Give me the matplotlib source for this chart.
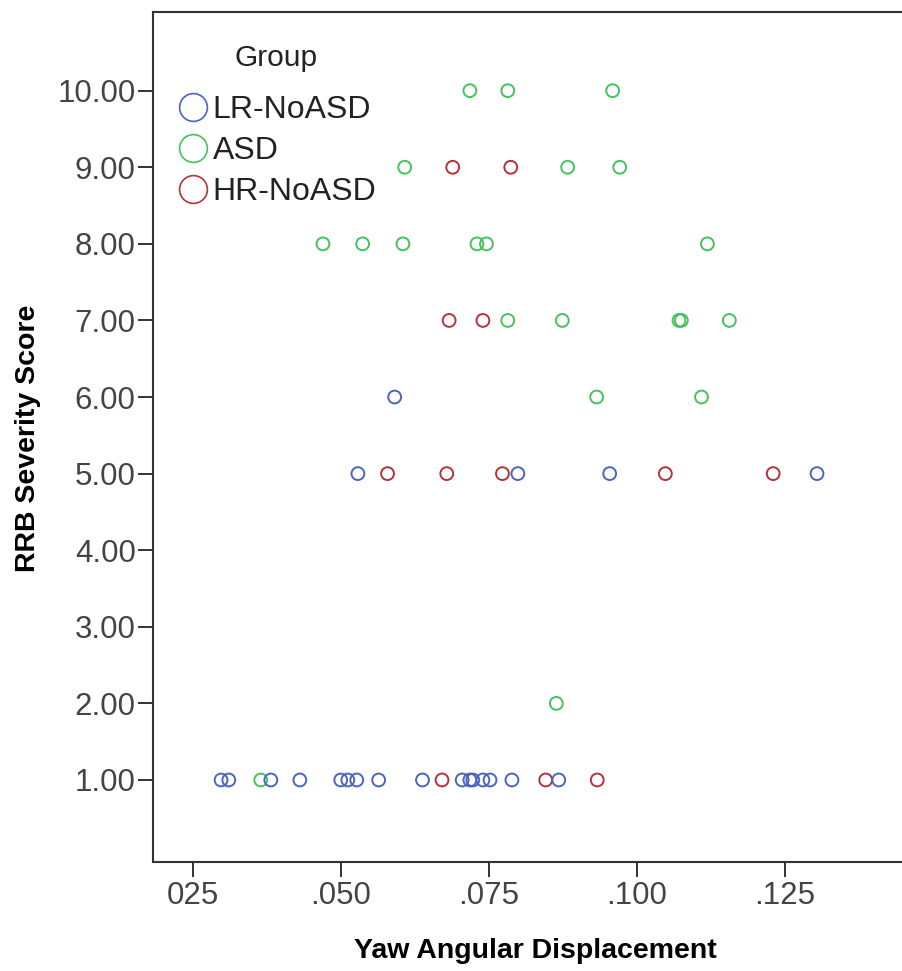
import matplotlib
matplotlib.use("Agg")
import matplotlib.pyplot as plt
from matplotlib.lines import Line2D

# Data: (x, y) per group
groups = ["LR-NoASD", "ASD", "HR-NoASD"]
colors = {"LR-NoASD": "#4b64c2", "ASD": "#45c25e", "HR-NoASD": "#b5323a"}

lr_x = [0.0591,
        0.0529, 0.0799, 0.0954, 0.1304,
        0.0298, 0.0311, 0.0382, 0.0431, 0.0500, 0.0512, 0.0527, 0.0564,
        0.0638, 0.0705, 0.0718, 0.0723, 0.0740, 0.0752, 0.0789, 0.0868]
lr_y = [6,
        5, 5, 5, 5,
        1, 1, 1, 1, 1, 1, 1, 1,
        1, 1, 1, 1, 1, 1, 1, 1]

asd_x = [0.0718, 0.0782, 0.0959,
         0.0608, 0.0883, 0.0971,
         0.0470, 0.0537, 0.0605, 0.0730, 0.0746, 0.1119,
         0.0782, 0.0874, 0.1071, 0.1075, 0.1156,
         0.0932, 0.1109,
         0.0864,
         0.0365]
asd_y = [10, 10, 10,
         9, 9, 9,
         8, 8, 8, 8, 8, 8,
         7, 7, 7, 7, 7,
         6, 6,
         2,
         1]

hr_x = [0.0689, 0.0787,
        0.0683, 0.0740,
        0.0579, 0.0679, 0.0773, 0.1048, 0.1230,
        0.0671, 0.0846, 0.0933]
hr_y = [9, 9,
        7, 7,
        5, 5, 5, 5, 5,
        1, 1, 1]

x_ticks = [0.025, 0.050, 0.075, 0.100, 0.125]
x_ticklabels = ["025", ".050", ".075", ".100", ".125"]
y_ticks = [1, 2, 3, 4, 5, 6, 7, 8, 9, 10]

W, H = 903, 971
fig = plt.figure(figsize=(W / 100, H / 100), dpi=100)
ax = fig.add_axes([153 / W, 1 - 861.7 / H, 760 / W, 850 / H])

frame = "#333333"
for s in ["left", "bottom", "top"]:
    ax.spines[s].set_color(frame)
    ax.spines[s].set_linewidth(1.5)
ax.spines["right"].set_visible(False)

# plot order: green, red, blue (blue sits on top)
for xs, ys, g in [(asd_x, asd_y, "ASD"), (hr_x, hr_y, "HR-NoASD"), (lr_x, lr_y, "LR-NoASD")]:
    ax.scatter(xs, ys, s=85, facecolors="none", edgecolors=colors[g], linewidths=1.4)

ax.set_xlim(0.01831, 0.01831 + 760 / 5924)
ax.set_ylim(-0.067, 11.031)

tick_font = "Liberation Sans"
ax.set_xticks(x_ticks)
ax.set_xticklabels(x_ticklabels)
ax.set_yticks(y_ticks)
ax.set_yticklabels(["%.2f" % v for v in y_ticks])
ax.tick_params(axis="both", length=11, width=1.4, color=frame, labelsize=22.5,
               labelcolor="#444444")
ax.tick_params(axis="y", pad=1.5)
ax.tick_params(axis="x", pad=3)
for lab in ax.get_xticklabels() + ax.get_yticklabels():
    lab.set_family(tick_font)

label_font = ["Liberation Sans Narrow", "Liberation Sans"]
ax.set_xlabel("Yaw Angular Displacement", family=label_font, fontweight="bold",
              fontsize=20.5, va="center")
ax.xaxis.set_label_coords((535 - 153) / 760, (861.7 - 951) / 850)
ax.set_ylabel("RRB Severity Score", family=label_font, fontweight="bold",
              fontsize=20.5, va="center")
ax.yaxis.set_label_coords((28 - 153) / 760, (861.7 - 438) / 850)

# legend
handles = [Line2D([], [], linestyle="none", marker="o", markersize=20,
                  markerfacecolor="none", markeredgecolor=colors[g], markeredgewidth=1.2)
           for g in groups]
leg = ax.legend(handles, groups, loc="upper left",
                bbox_to_anchor=(177 / W, 1 - 95 / H), bbox_transform=fig.transFigure,
                frameon=False, borderpad=0, borderaxespad=0, handlelength=1.0,
                handletextpad=0.12, labelspacing=0.34,
                prop={"family": "Liberation Sans", "size": 23})
for t in leg.get_texts():
    t.set_color("#222222")
fig.text(276 / W, 1 - 58 / H, "Group", ha="center", va="center",
         family="Liberation Sans", fontsize=21.5, color="#222222")

fig.savefig("out.png", dpi=100)
